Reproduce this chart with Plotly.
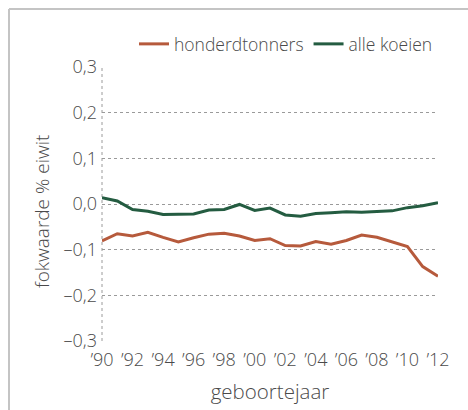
import plotly.graph_objects as go

years = list(range(1990, 2013))
honderdtonners = [-0.081, -0.065, -0.070, -0.062, -0.073, -0.083, -0.074, -0.066, -0.064, -0.070,
                  -0.080, -0.076, -0.091, -0.092, -0.082, -0.088, -0.080, -0.068, -0.073, -0.083,
                  -0.093, -0.137, -0.158]
alle_koeien = [0.014, 0.0065, -0.012, -0.016, -0.023, -0.023, -0.022, -0.013, -0.012, -0.001,
               -0.014, -0.009, -0.024, -0.027, -0.021, -0.019, -0.017, -0.018, -0.017, -0.015,
               -0.008, -0.004, 0.003]
x_tickvals = list(range(1990, 2013, 2))
x_ticktext = ["’90", "’92", "’94", "’96", "’98", "’00", "’02", "’04", "’06", "’08", "’10", "’12"]
y_tickvals = [-0.3, -0.2, -0.1, 0.0, 0.1, 0.2, 0.3]
y_ticktext = ["–0,3", "–0,2", "–0,1", "0,0", "0,1", "0,2", "0,3"]

RED = "#b65a3c"
GREEN = "#245c41"
TXT = "#4a4a4a"
FONT = "Open Sans"

L, R, T, B = 102, 30, 67, 69
PW, PH = 468 - L - R, 410 - T - B

def fnt(size=16):
    return dict(family=FONT, size=size, color=TXT, weight=300)

fig = go.Figure()
fig.add_trace(go.Scatter(x=years, y=honderdtonners, mode="lines", name="honderdtonners",
                         line=dict(color=RED, width=3)))
fig.add_trace(go.Scatter(x=years, y=alle_koeien, mode="lines", name="alle koeien",
                         line=dict(color=GREEN, width=3)))

fig.update_layout(
    width=468, height=410,
    margin=dict(l=L, r=R, t=T, b=B, autoexpand=False),
    paper_bgcolor="white", plot_bgcolor="white",
    font=fnt(),
    showlegend=True,
    legend=dict(orientation="h", x=1, xanchor="right", y=1 + (T - 44)/PH, yanchor="middle",
                font=fnt(17.5), itemwidth=30, tracegroupgap=0,
                bgcolor="rgba(0,0,0,0)"),
    xaxis=dict(range=[1990, 2012], tickvals=x_tickvals, ticktext=x_ticktext,
               showgrid=False, zeroline=False, showline=False, ticks="", automargin=False,
               ticklabelstandoff=6, tickfont=fnt(18),
               title=dict(text="geboortejaar", font=fnt(20.5), standoff=14)),
    yaxis=dict(range=[-0.3, 0.3], tickvals=y_tickvals, ticktext=y_ticktext,
               showgrid=True, gridcolor="#9a9a9a", griddash="dot", gridwidth=1,
               zeroline=False, showline=False, ticks="", ticklabelstandoff=4, automargin=False,
               tickfont=fnt(18)),
)
fig.add_annotation(text="fokwaarde % eiwit", textangle=-90, xref="paper", yref="paper",
                   x=-(L - 42) / PW, y=(341 - 212) / PH, xanchor="center", yanchor="middle",
                   showarrow=False, font=fnt(19))
bx = -(L - 9) / PW
ty = 1 + (T - 9) / PH
fig.add_shape(type="line", xref="paper", yref="paper", x0=0, x1=0, y0=0, y1=1,
              line=dict(color="#9a9a9a", width=1, dash="dot"), layer="below")
fig.add_shape(type="line", xref="paper", yref="paper", x0=bx, x1=bx, y0=-B / PH - 0.01, y1=ty,
              line=dict(color="#c4c4c4", width=2), layer="above")
fig.add_shape(type="line", xref="paper", yref="paper", x0=bx, x1=1 + R / PW + 0.01, y0=ty, y1=ty,
              line=dict(color="#c4c4c4", width=2), layer="above")

fig.write_html("out.html", config={"displayModeBar": False},
               post_script="document.body.style.margin='0';document.body.style.overflow='hidden';")
